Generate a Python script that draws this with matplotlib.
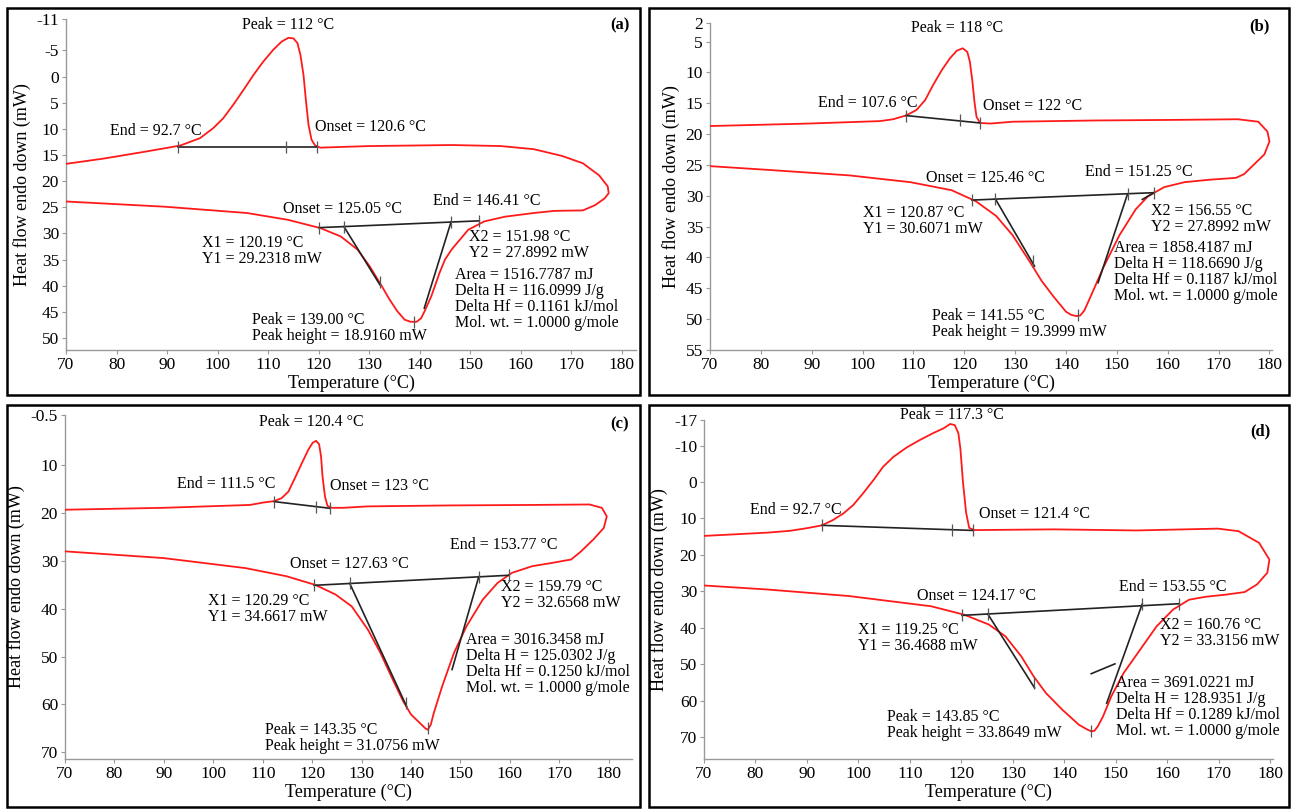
import matplotlib
matplotlib.use('Agg')
from matplotlib import pyplot as plt
from matplotlib.patches import Rectangle

plt.rcParams['font.family'] = ['Liberation Serif', 'DejaVu Serif']

# DSC loops: heating from 70 C to the right turn, then cooling back to 70 C
a_temp = [70, 89.6, 105.8, 113.9, 120.4, 124.4, 127.7, 130.1, 132.5, 134, 135.5, 137.0, 138.2, 139.4, 140.3, 141.1,
          142.3, 143.9, 145, 146.3, 149.6, 152.8, 156.9, 162.6, 166.6, 172.3, 174.7, 176.6, 177.4, 177.2, 175.5,
          172.3, 168.2, 162.6, 156.1, 146.3, 130, 120.3, 119.3, 118.6, 118.0, 117.5, 117.0, 116.4, 115.8,
          115.0, 114.0, 112.7, 111.0, 109.0, 107.1, 105.1, 103.1, 101.1, 99.1, 96.5, 92.6, 85.5, 77.4, 70]
a_hf = [23.9, 24.9, 26.1, 27.4, 29.0, 30.6, 33.1, 36.3, 40.1, 42.6, 44.8, 46.5, 46.9, 46.9, 46.2, 44.6,
        42.0, 37.6, 35.0, 33.1, 29.3, 27.7, 26.8, 26.1, 25.7, 25.6, 24.6, 23.3, 22.3, 21.0, 18.9,
        16.6, 15.2, 13.9, 13.3, 13.1, 13.3, 13.6, 13.2, 12.1, 9.3, 4.8, -0.3, -4.1, -6.4,
        -7.3, -7.4, -6.7, -5.1, -2.8, -0.3, 2.6, 5.4, 8.0, 9.9, 11.8, 13.2, 14.4, 15.7, 16.7]

b_temp = [70, 81.3, 97.4, 109.4, 117.5, 122.3, 126.3, 129.5, 132.8, 135.2, 137.6, 140, 141, 142, 142.8, 143.6,
          144.8, 147.3, 150.5, 153.7, 156.1, 159.3, 163.3, 168.2, 173.4, 175, 177, 179, 180, 179.6, 177.8, 173.8,
          161.7, 145.6, 129.5, 125.1, 123.1, 122.4, 122.0, 121.6, 121.1, 120.6, 119.7, 118.5, 117.2, 115.6,
          113.9, 112.3, 110.6, 108.5, 106.0, 103.4, 89.3, 70]
b_hf = [25.2, 25.8, 26.7, 27.8, 29.1, 30.9, 33.3, 36.4, 40.6, 43.8, 46.4, 48.8, 49.3, 49.5, 49.4, 48.6,
        46.4, 41.7, 36.4, 32.2, 30.1, 28.6, 27.8, 27.4, 27.1, 26.5, 24.9, 23.3, 21.2, 19.6, 18.0, 17.6,
        17.7, 17.8, 18.0, 18.3, 18.2, 17.2, 14.8, 11.5, 8.3, 6.7, 6.1, 6.5, 7.7, 9.6,
        12.0, 14.5, 16.1, 17.0, 17.6, 17.9, 18.3, 18.7]

c_temp = [70, 89.9, 106.5, 114.8, 120.6, 124.7, 128, 131.3, 133.8, 136.3, 138.4, 140, 142.1, 142.9, 143.4, 144.0,
          144.6, 146.3, 148.7, 151.2, 154.5, 157.5, 160.4, 164.5, 168.6, 172.4, 174.4, 176.9, 179, 179.6, 178.6,
          176.1, 164.5, 147.9, 131.3, 126.3, 124.0, 123.1, 122.6, 122.1, 121.8, 121.4, 120.8, 120.1, 119.2,
          117.9, 116.5, 115.2, 113.8, 112.3, 110.1, 107.4, 89.9, 70]
c_hf = [28.0, 29.4, 31.5, 33.2, 35.0, 37.0, 39.5, 44.4, 49.2, 54.8, 59.3, 62.1, 64.2, 65.0, 65.3, 64.2,
        61.8, 56.2, 49.2, 43.7, 38.1, 34.6, 32.5, 31.1, 30.4, 29.7, 28.0, 25.5, 23.1, 20.7, 18.9,
        18.2, 18.3, 18.4, 18.6, 18.9, 18.9, 18.5, 16.6, 12.4, 8.2, 5.6, 4.9, 5.3, 6.8,
        9.6, 12.7, 15.5, 16.9, 17.5, 17.8, 18.3, 18.9, 19.3]

d_temp = [70, 82.3, 98.2, 114.1, 120.5, 125.3, 128.5, 131.6, 134, 136.4, 139.6, 142.8, 144.4, 145.2, 145.8, 146.5, 147.5,
          149.1, 151.5, 154.7, 157.9, 161.1, 164.2, 167.4, 171.4, 175, 177.4, 179.4, 179.8, 177.8, 173.8,
          169.8, 153.9, 138, 122.5, 121.5, 120.9, 120.3, 119.8, 119.4, 118.7, 117.8, 116.5, 114.5, 111.9,
          109.4, 106.8, 104.8, 102.9, 100.9, 99.0, 97.1, 95.1, 92.9, 89.9, 86.7, 82.3, 70]
d_hf = [28.4, 29.5, 31.3, 34.1, 36.4, 39.1, 42.3, 47.8, 53.3, 57.9, 62.5, 66.6, 67.9, 68.4, 68.3, 67.0, 64.3,
        58.8, 52.4, 46.0, 39.6, 35.0, 32.3, 31.5, 30.9, 30.2, 28.1, 24.9, 21.3, 16.7, 13.5,
        12.8, 13.3, 13.0, 13.2, 12.6, 8.4, 0.2, -9.0, -13.4, -15.6, -15.9, -14.7, -13.4, -11.5,
        -9.5, -6.9, -4.2, -0.5, 3.1, 6.3, 8.6, 10.4, 11.9, 12.7, 13.4, 13.9, 14.8]

# baselines and tangents (pairs of end points), and the small markers on them
a_lines = [[(92.1, 13.5), (119.6, 13.5)], [(120.1, 28.9), (151.8, 27.6)],
           [(125.0, 28.7), (132.1, 39.8)], [(146.2, 27.8), (140.9, 44.3)]]
a_marks = [(92.1, 13.5), (113.5, 13.5), (119.6, 13.5), (120.1, 28.9), (125.0, 28.7),
           (146.2, 27.8), (151.8, 27.6), (132.1, 39.3), (138.8, 47.0)]
b_lines = [[(108.5, 17.0), (123.1, 18.2)], [(121.5, 30.7), (157.3, 29.5)],
           [(126.1, 30.5), (133.8, 41.4)], [(152.1, 29.7), (146.3, 44.1)],
           [(155.0, 30.6), (157.3, 29.5)]]
b_marks = [(108.5, 17.0), (119.2, 17.8), (123.1, 18.2), (121.5, 30.7), (126.1, 30.5),
           (152.1, 29.7), (157.3, 29.5), (133.6, 40.6), (142.3, 49.3)]
c_lines = [[(112.3, 17.6), (123.6, 19.0)], [(120.4, 35.1), (159.8, 33.0)],
           [(127.6, 34.7), (139.1, 60.4)], [(153.7, 33.3), (148.3, 52.7)]]
c_marks = [(112.3, 17.6), (120.8, 18.65), (123.6, 19.0), (120.4, 35.1), (127.6, 34.7),
           (153.7, 33.3), (159.8, 33.0), (139.0, 59.7), (143.4, 65.0)]
d_lines = [[(92.9, 11.9), (122.3, 13.3)], [(120.1, 36.6), (162.3, 33.4)],
           [(125.1, 36.2), (134.2, 56.5)], [(155.1, 33.5), (148.2, 60.7)],
           [(145.2, 52.6), (149.8, 49.9)]]
d_marks = [(92.9, 11.9), (118.1, 13.1), (122.3, 13.3), (120.1, 36.6), (125.1, 36.2),
           (155.1, 33.5), (162.3, 33.4), (134.0, 55.2), (145.2, 68.4)]

a_notes = [("Peak = 112 °C", 113.9, -9.8, 'center'),
           ("End = 92.7 °C", 78.8, 10.4, 'left'),
           ("Onset = 120.6 °C", 119.2, 9.6, 'left'),
           ("Onset = 125.05 °C", 124.8, 25.4, 'center'),
           ("End = 146.41 °C", 153.2, 23.9, 'center'),
           ("X1 = 120.19 °C\nY1 = 29.2318 mW", 96.9, 33.3, 'left'),
           ("X2 = 151.98 °C\nY2 = 27.8992 mW", 149.7, 32.25, 'left'),
           ("Area = 1516.7787 mJ\nDelta H = 116.0999 J/g\nDelta Hf = 0.1161 kJ/mol\nMol. wt. = 1.0000 g/mole", 147.0, 42.6, 'left'),
           ("Peak = 139.00 °C\nPeak height = 18.9160 mW", 106.8, 48.15, 'left')]
b_notes = [("Peak = 118 °C", 118.5, 2.8, 'center'),
           ("End = 107.6 °C", 91.2, 15.0, 'left'),
           ("Onset = 122 °C", 123.6, 15.5, 'left'),
           ("Onset = 125.46 °C", 124.2, 27.2, 'center'),
           ("End = 151.25 °C", 154.3, 26.2, 'center'),
           ("X1 = 120.87 °C\nY1 = 30.6071 mW", 100.0, 34.1, 'left'),
           ("X2 = 156.55 °C\nY2 = 27.8992 mW", 156.7, 33.75, 'left'),
           ("Area = 1858.4187 mJ\nDelta H = 118.6690 J/g\nDelta Hf = 0.1187 kJ/mol\nMol. wt. = 1.0000 g/mole", 149.5, 42.4, 'left'),
           ("Peak = 141.55 °C\nPeak height = 19.3999 mW", 113.7, 50.75, 'left')]
c_notes = [("Peak = 120.4 °C", 119.9, 0.9, 'center'),
           ("End = 111.5 °C", 92.6, 14.0, 'left'),
           ("Onset = 123 °C", 123.7, 14.3, 'left'),
           ("Onset = 127.63 °C", 127.6, 30.6, 'center'),
           ("End = 153.77 °C", 158.7, 26.6, 'center'),
           ("X1 = 120.29 °C\nY1 = 34.6617 mW", 99.0, 39.95, 'left'),
           ("X2 = 159.79 °C\nY2 = 32.6568 mW", 158.3, 37.2, 'left'),
           ("Area = 3016.3458 mJ\nDelta H = 125.0302 J/g\nDelta Hf = 0.1250 kJ/mol\nMol. wt. = 1.0000 g/mole", 151.2, 51.6, 'left'),
           ("Peak = 143.35 °C\nPeak height = 31.0756 mW", 110.5, 66.95, 'left')]
d_notes = [("Peak = 117.3 °C", 118.1, -18.3, 'center'),
           ("End = 92.7 °C", 79.0, 7.7, 'left'),
           ("Onset = 121.4 °C", 123.5, 8.9, 'left'),
           ("Onset = 124.17 °C", 122.9, 31.2, 'center'),
           ("End = 153.55 °C", 161.1, 28.8, 'center'),
           ("X1 = 119.25 °C\nY1 = 36.4688 mW", 100.0, 42.9, 'left'),
           ("X2 = 160.76 °C\nY2 = 33.3156 mW", 158.5, 41.55, 'left'),
           ("Area = 3691.0221 mJ\nDelta H = 128.9351 J/g\nDelta Hf = 0.1289 kJ/mol\nMol. wt. = 1.0000 g/mole", 150.1, 61.75, 'left'),
           ("Peak = 143.85 °C\nPeak height = 33.8649 mW", 105.6, 66.7, 'left')]

x_ticks = [70, 80, 90, 100, 110, 120, 130, 140, 150, 160, 170, 180]
a_yticks = [-11, -5, 0, 5, 10, 15, 20, 25, 30, 35, 40, 45, 50]
b_yticks = [2, 5, 10, 15, 20, 25, 30, 35, 40, 45, 50, 55]
c_yticks = [-0.5, 10, 20, 30, 40, 50, 60, 70]
d_yticks = [-17, -10, 0, 10, 20, 30, 40, 50, 60, 70]

W, H = 1292, 809
fig = plt.figure(figsize=(W / 100, H / 100), dpi=100)

# frames around each panel, in pixels: x0, y0, x1, y1
for x0, y0, x1, y1 in [(7, 8, 640, 395), (649, 8, 1289, 395), (7, 405, 640, 807), (649, 405, 1289, 807)]:
    fig.add_artist(Rectangle((x0 / W, 1 - y1 / H), (x1 - x0) / W, (y1 - y0) / H,
                             transform=fig.transFigure, fill=False, lw=1.8, ec='black'))


def panel(rect, temp, hf, lines, marks, notes, yticks, ylim, xlim, letter, letter_pos):
    left, top, right, bottom = rect
    ax = fig.add_axes([left / W, 1 - bottom / H, (right - left) / W, (bottom - top) / H])
    ax.plot(temp, hf, color='#ff1a1a', lw=1.3, zorder=3, solid_joinstyle='round')
    for p, q in lines:
        ax.plot([p[0], q[0]], [p[1], q[1]], color='#222222', lw=1.2, zorder=4)
    ax.plot([m[0] for m in marks], [m[1] for m in marks], ls='none', marker='|',
            ms=9, mew=0.9, color='#555555', zorder=5)
    for txt, x, y, ha in notes:
        ax.text(x, y, txt, ha=ha, va='center', fontsize=11.5, linespacing=1.0)
    ax.text(letter_pos[0], letter_pos[1], letter, ha='right', va='center', fontsize=12, fontweight='bold')
    ax.set_xlim(*xlim)
    ax.set_ylim(*ylim)
    ax.set_xticks(x_ticks)
    ax.set_yticks(yticks)
    ax.set_yticklabels([str(t) for t in yticks])
    for s in ['top', 'right']:
        ax.spines[s].set_visible(False)
    for s in ['left', 'bottom']:
        ax.spines[s].set_color('#999999')
        ax.spines[s].set_linewidth(1.0)
    ax.tick_params(colors='#999999', labelcolor='black', labelsize=12.5, length=3, width=0.8, pad=2)
    ax.set_xlabel('Temperature (°C)', fontsize=13, labelpad=1)
    ax.set_ylabel('Heat flow endo down (mW)', fontsize=13, labelpad=4)
    ax.patch.set_alpha(0)
    return ax


panel((66, 19, 636, 350), a_temp, a_hf, a_lines, a_marks, a_notes, a_yticks, (52.3, -11), (70, 182.8), '(a)', (181.6, -9.8))
panel((710, 23, 1272, 350), b_temp, b_hf, b_lines, b_marks, b_notes, b_yticks, (55, 2), (70, 180.5), '(b)', (180.1, 2.5))
panel((65, 415, 632, 759), c_temp, c_hf, c_lines, c_marks, c_notes, c_yticks, (71.4, -0.5), (70, 184.7), '(c)', (184, 1.5))
panel((704, 420, 1273, 759), d_temp, d_hf, d_lines, d_marks, d_notes, d_yticks, (76, -17), (70, 180.5), '(d)', (180, -14))

fig.savefig('out.png', dpi=100)
